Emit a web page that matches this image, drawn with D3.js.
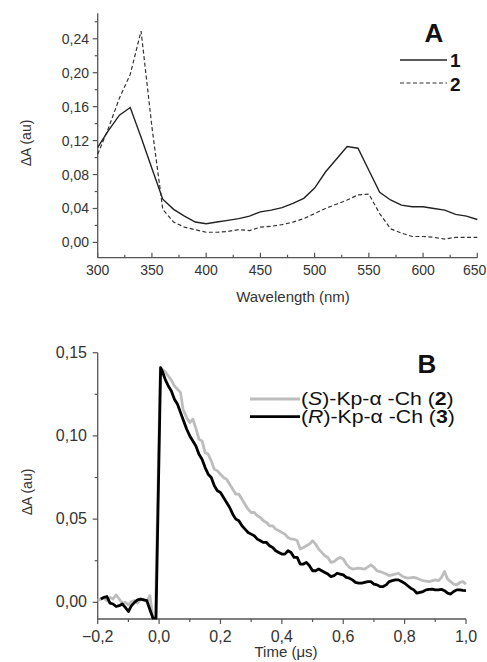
<!DOCTYPE html>
<html><head><meta charset="utf-8">
<script src="https://cdn.jsdelivr.net/npm/d3@7"></script>
<style>body{margin:0;background:#fff;} svg{display:block;font-family:Arial,"Liberation Sans",sans-serif;}</style>
</head><body>
<script>
// ---------- Panel A data ----------
const wavelengths = [300,310,320,330,340,350,360,370,380,390,400,410,420,430,440,450,460,470,480,490,500,510,520,530,540,550,560,570,580,590,600,610,620,630,640,650];
const spectrum1 = [0.112,0.132,0.150,0.159,0.124,0.087,0.051,0.039,0.031,0.024,0.022,0.024,0.026,0.028,0.031,0.036,0.038,0.041,0.046,0.052,0.064,0.083,0.098,0.113,0.111,0.085,0.059,0.050,0.044,0.042,0.042,0.040,0.038,0.033,0.031,0.027];
const spectrum2 = [0.104,0.135,0.170,0.198,0.249,0.136,0.039,0.024,0.018,0.015,0.012,0.012,0.013,0.015,0.014,0.018,0.019,0.021,0.024,0.028,0.034,0.040,0.045,0.050,0.056,0.057,0.034,0.016,0.011,0.007,0.007,0.006,0.004,0.006,0.006,0.006];
const xTicksA = [300,350,400,450,500,550,600,650];
const yTicksA = [0,0.04,0.08,0.12,0.16,0.20,0.24];
const legendA = ["1","2"];

// ---------- Panel B data ----------
const timeS = [-0.20,-0.19,-0.18,-0.17,-0.16,-0.15,-0.14,-0.13,-0.12,-0.11,-0.10,-0.09,-0.08,-0.07,-0.06,-0.05,-0.04,-0.03,-0.02,-0.012,0.004,0.010,0.020,0.030,0.040,0.050,0.060,0.070,0.078,0.090,0.100,0.110,0.120,0.130,0.140,0.150,0.160,0.170,0.180,0.190,0.200,0.210,0.220,0.230,0.240,0.250,0.260,0.270,0.280,0.290,0.300,0.310,0.320,0.330,0.340,0.350,0.360,0.370,0.380,0.390,0.400,0.410,0.420,0.430,0.440,0.450,0.460,0.470,0.480,0.490,0.500,0.510,0.520,0.530,0.540,0.550,0.560,0.570,0.580,0.590,0.600,0.610,0.620,0.630,0.650,0.670,0.690,0.700,0.710,0.720,0.740,0.750,0.760,0.780,0.790,0.800,0.810,0.830,0.840,0.860,0.880,0.900,0.910,0.920,0.930,0.940,0.950,0.960,0.970,0.980,0.990,1.000];
const valueS = [0.001,0.002,0.0025,0.001,0.003,0.002,0.0045,0.002,-0.0005,0.000,-0.0015,0.0005,0.001,-0.0005,0.002,0.0015,0.0005,0.004,-0.0095,-0.0095,0.141,0.140,0.1385,0.136,0.1335,0.130,0.128,0.126,0.116,0.111,0.108,0.110,0.1045,0.098,0.097,0.090,0.089,0.085,0.080,0.079,0.077,0.075,0.074,0.071,0.068,0.065,0.065,0.062,0.059,0.056,0.054,0.054,0.052,0.051,0.049,0.048,0.046,0.046,0.044,0.043,0.042,0.041,0.039,0.038,0.038,0.037,0.032,0.033,0.034,0.035,0.037,0.035,0.032,0.030,0.028,0.027,0.024,0.0245,0.026,0.027,0.026,0.023,0.021,0.020,0.0205,0.020,0.0225,0.021,0.019,0.0185,0.017,0.016,0.0165,0.0175,0.016,0.015,0.0145,0.015,0.0145,0.013,0.0125,0.0135,0.013,0.015,0.0185,0.014,0.0125,0.011,0.0105,0.012,0.0125,0.011];
const timeR = [-0.19,-0.18,-0.17,-0.16,-0.15,-0.14,-0.13,-0.12,-0.11,-0.10,-0.09,-0.08,-0.07,-0.06,-0.05,-0.04,-0.02,-0.010,0.005,0.010,0.020,0.030,0.040,0.050,0.060,0.070,0.080,0.090,0.100,0.110,0.120,0.130,0.140,0.150,0.160,0.170,0.180,0.190,0.200,0.210,0.220,0.230,0.240,0.250,0.260,0.270,0.280,0.290,0.300,0.310,0.320,0.330,0.340,0.350,0.360,0.370,0.380,0.390,0.400,0.410,0.420,0.430,0.440,0.450,0.460,0.470,0.480,0.490,0.500,0.510,0.520,0.530,0.540,0.550,0.560,0.570,0.580,0.590,0.600,0.610,0.620,0.630,0.640,0.650,0.660,0.670,0.680,0.690,0.700,0.710,0.720,0.730,0.740,0.750,0.760,0.770,0.780,0.790,0.800,0.810,0.820,0.830,0.840,0.850,0.860,0.870,0.880,0.890,0.900,0.910,0.920,0.930,0.940,0.950,0.960,0.970,0.980,0.990,1.000];
const valueR = [0.002,0.003,0.0035,-0.0005,-0.001,-0.0025,-0.002,-0.001,-0.003,-0.0055,-0.002,0.000,0.0015,0.002,0.0015,0.001,-0.0095,-0.0095,0.141,0.139,0.134,0.130,0.127,0.122,0.119,0.114,0.109,0.104,0.100,0.097,0.094,0.089,0.086,0.081,0.077,0.075,0.070,0.067,0.066,0.063,0.060,0.057,0.053,0.050,0.049,0.046,0.044,0.042,0.041,0.040,0.038,0.037,0.036,0.036,0.034,0.033,0.031,0.030,0.029,0.029,0.031,0.030,0.027,0.027,0.023,0.023,0.024,0.022,0.019,0.019,0.020,0.019,0.018,0.017,0.0155,0.016,0.0175,0.017,0.0165,0.015,0.0145,0.0135,0.012,0.0115,0.0115,0.012,0.0125,0.0125,0.011,0.0105,0.0095,0.0095,0.0105,0.0125,0.013,0.0135,0.0135,0.0125,0.0115,0.010,0.0085,0.0075,0.0055,0.006,0.0065,0.0075,0.0078,0.008,0.0075,0.0075,0.0078,0.007,0.0055,0.005,0.0065,0.0075,0.0075,0.0072,0.007];
const xTicksB = [-0.2,0,0.2,0.4,0.6,0.8,1.0];
const yTicksB = [0,0.05,0.10,0.15];

const fmt = (d, n) => d3.format("." + n + "f")(d).replace(".", ",");

const W = 487, H = 662;
const svg = d3.select("body").append("svg").attr("width", W).attr("height", H);
svg.append("rect").attr("width", W).attr("height", H).attr("fill", "#fff");
const axisCol = "#555";

// ================= Panel A =================
const xA = d3.scaleLinear().domain([300, 650]).range([97.7, 477.3]);
const yA = d3.scaleLinear().domain([-0.018, 0.27]).range([257.7, 13.3]);
const gA = svg.append("g");

gA.append("line").attr("x1", xA(300)).attr("x2", xA(300)).attr("y1", yA(-0.018)).attr("y2", yA(0.27)).attr("stroke", axisCol).attr("stroke-width", 1.3);
gA.append("line").attr("x1", xA(300)).attr("x2", xA(650)).attr("y1", yA(-0.018)).attr("y2", yA(-0.018)).attr("stroke", axisCol).attr("stroke-width", 1.3);
const xMinorA = d3.range(325, 650, 50);
gA.selectAll(".xtA").data(xTicksA).join("line").attr("x1", d => xA(d)).attr("x2", d => xA(d)).attr("y1", yA(-0.018)).attr("y2", yA(-0.018) - 5).attr("stroke", axisCol).attr("stroke-width", 1.2);
gA.selectAll(".xmA").data(xMinorA).join("line").attr("x1", d => xA(d)).attr("x2", d => xA(d)).attr("y1", yA(-0.018)).attr("y2", yA(-0.018) - 3).attr("stroke", axisCol).attr("stroke-width", 1.2);
gA.selectAll(".xlA").data(xTicksA).join("text").attr("x", d => xA(d)).attr("y", 275).attr("text-anchor", d => d === 650 ? "end" : "middle").attr("dx", d => d === 650 ? 9 : 0).attr("font-size", 14).attr("fill", "#333").text(d => d);
const yMinorA = [0.02,0.06,0.10,0.14,0.18,0.22,0.26];
gA.selectAll(".ytA").data(yTicksA).join("line").attr("x1", xA(300)).attr("x2", xA(300) - 5).attr("y1", d => yA(d)).attr("y2", d => yA(d)).attr("stroke", axisCol).attr("stroke-width", 1.2);
gA.selectAll(".ymA").data(yMinorA).join("line").attr("x1", xA(300)).attr("x2", xA(300) - 3).attr("y1", d => yA(d)).attr("y2", d => yA(d)).attr("stroke", axisCol).attr("stroke-width", 1.2);
gA.selectAll(".ylA").data(yTicksA).join("text").attr("x", 89).attr("y", d => yA(d) + 5).attr("text-anchor", "end").attr("font-size", 14).attr("fill", "#333").text(d => fmt(d, 2));
gA.append("text").attr("x", 293).attr("y", 302).attr("text-anchor", "middle").attr("font-size", 15).attr("fill", "#333").text("Wavelength (nm)");
gA.append("text").attr("transform", "translate(31,143) rotate(-90)").attr("text-anchor", "middle").attr("font-size", 14).attr("fill", "#333").text("ΔA (au)");
const lineA = (vals) => d3.line().x((d, i) => xA(wavelengths[i])).y(d => yA(d))(vals);
gA.append("path").attr("d", lineA(spectrum2)).attr("fill", "none").attr("stroke", "#333").attr("stroke-width", 1.2).attr("stroke-dasharray", "4,2.5");
gA.append("path").attr("d", lineA(spectrum1)).attr("fill", "none").attr("stroke", "#222").attr("stroke-width", 1.4);
gA.append("text").attr("x", 434).attr("y", 42).attr("text-anchor", "middle").attr("font-size", 26).attr("font-weight", "bold").attr("fill", "#111").text("A");
gA.append("line").attr("x1", 400).attr("x2", 447).attr("y1", 60).attr("y2", 60).attr("stroke", "#222").attr("stroke-width", 1.4);
gA.append("line").attr("x1", 400).attr("x2", 447).attr("y1", 83).attr("y2", 83).attr("stroke", "#333").attr("stroke-width", 1.2).attr("stroke-dasharray", "4,2.5");
gA.selectAll(".legA").data(legendA).join("text").attr("x", 450).attr("y", (d, i) => 67 + i * 23.5).attr("font-size", 19).attr("font-weight", "bold").attr("fill", "#111").text(d => d);

// ================= Panel B =================
const xB = d3.scaleLinear().domain([-0.2, 1.0]).range([97.7, 466]);
const yB = d3.scaleLinear().domain([-0.01, 0.15]).range([619, 352.7]);
const gB = svg.append("g");
gB.append("line").attr("x1", xB(-0.2)).attr("x2", xB(-0.2)).attr("y1", yB(-0.01)).attr("y2", yB(0.15)).attr("stroke", axisCol).attr("stroke-width", 1.3);
gB.append("line").attr("x1", xB(-0.2)).attr("x2", xB(1.0)).attr("y1", yB(-0.01)).attr("y2", yB(-0.01)).attr("stroke", axisCol).attr("stroke-width", 1.3);
const xMinorB = [-0.1,0.1,0.3,0.5,0.7,0.9];
gB.selectAll(".xtB").data(xTicksB).join("line").attr("x1", d => xB(d)).attr("x2", d => xB(d)).attr("y1", yB(-0.01)).attr("y2", yB(-0.01) + 5).attr("stroke", axisCol).attr("stroke-width", 1.2);
gB.selectAll(".xmB").data(xMinorB).join("line").attr("x1", d => xB(d)).attr("x2", d => xB(d)).attr("y1", yB(-0.01)).attr("y2", yB(-0.01) + 3).attr("stroke", axisCol).attr("stroke-width", 1.2);
gB.selectAll(".xlB").data(xTicksB).join("text").attr("x", d => xB(d)).attr("y", 642).attr("text-anchor", "middle").attr("font-size", 16).attr("fill", "#333").text(d => fmt(d, 1));
const yMinorB = [0.025,0.075,0.125];
gB.selectAll(".ytB").data(yTicksB).join("line").attr("x1", xB(-0.2)).attr("x2", xB(-0.2) - 5).attr("y1", d => yB(d)).attr("y2", d => yB(d)).attr("stroke", axisCol).attr("stroke-width", 1.2);
gB.selectAll(".ymB").data(yMinorB).join("line").attr("x1", xB(-0.2)).attr("x2", xB(-0.2) - 3).attr("y1", d => yB(d)).attr("y2", d => yB(d)).attr("stroke", axisCol).attr("stroke-width", 1.2);
gB.selectAll(".ylB").data(yTicksB).join("text").attr("x", 87).attr("y", d => yB(d) + 5).attr("text-anchor", "end").attr("font-size", 16).attr("fill", "#333").text(d => fmt(d, 2));
gB.append("text").attr("x", 286).attr("y", 657).attr("text-anchor", "middle").attr("font-size", 15).attr("fill", "#333").text("Time (μs)");
gB.append("text").attr("transform", "translate(32,492) rotate(-90)").attr("text-anchor", "middle").attr("font-size", 14).attr("fill", "#333").text("ΔA (au)");

const lineB = (ts, vs) => d3.line().x((d, i) => xB(ts[i])).y(d => yB(d))(vs);
gB.append("path").attr("d", lineB(timeS, valueS)).attr("fill", "none").attr("stroke", "#bdbdbd").attr("stroke-width", 2.8).attr("stroke-linejoin", "round");
gB.append("path").attr("d", lineB(timeR, valueR)).attr("fill", "none").attr("stroke", "#000").attr("stroke-width", 2.8).attr("stroke-linejoin", "round");

gB.append("text").attr("x", 427).attr("y", 373).attr("text-anchor", "middle").attr("font-size", 26).attr("font-weight", "bold").attr("fill", "#111").text("B");
gB.append("line").attr("x1", 250).attr("x2", 300).attr("y1", 399).attr("y2", 399).attr("stroke", "#bdbdbd").attr("stroke-width", 2.8);
gB.append("line").attr("x1", 250).attr("x2", 300).attr("y1", 416.7).attr("y2", 416.7).attr("stroke", "#000").attr("stroke-width", 2.8);
const legB = [{c: "S", n: "2", y: 405}, {c: "R", n: "3", y: 422.5}];
legB.forEach(o => {
  const t = gB.append("text").attr("transform", `translate(301,${o.y}) scale(1.18,1)`).attr("font-size", 18).attr("fill", "#111");
  t.append("tspan").text("(");
  t.append("tspan").attr("font-style", "italic").text(o.c);
  t.append("tspan").text(")-Kp-α -Ch (");
  t.append("tspan").attr("font-weight", "bold").text(o.n);
  t.append("tspan").text(")");
});
</script>
</body></html>
